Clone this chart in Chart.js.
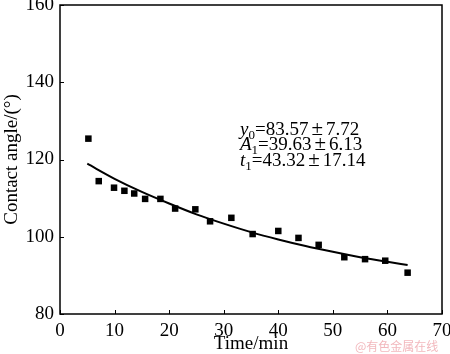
<!DOCTYPE html>
<html>
<head>
<meta charset="utf-8">
<script src="https://cdn.jsdelivr.net/npm/chart.js@4.4.0/dist/chart.umd.min.js"></script>
<style>
  html, body { margin: 0; padding: 0; background: #fff; }
  #wrap { width: 450px; height: 354px; }
</style>
</head>
<body>
<div id="wrap"><canvas id="chart" width="450" height="354"></canvas></div>
<script>
// measured points (time in min, contact angle in degrees)
const timeMin = [5.2, 7.1, 9.9, 11.8, 13.6, 15.6, 18.4, 21.1, 24.8, 27.5, 31.4, 35.3, 40.0, 43.7, 47.4, 52.1, 55.9, 59.6, 63.7];
const contactAngle = [125.4, 114.4, 112.7, 111.9, 111.2, 109.8, 109.8, 107.3, 107.1, 104.0, 104.9, 100.7, 101.5, 99.7, 97.9, 94.7, 94.2, 93.8, 90.7];

// fitted curve
const fitTime = [5, 10, 15, 20, 25, 30, 35, 40, 45, 50, 55, 60, 63.7];
const fitAngle = [118.9, 115.0, 111.6, 108.6, 105.8, 103.4, 101.2, 99.3, 97.6, 96.1, 94.7, 93.5, 92.7];

const xTicks = [0, 10, 20, 30, 40, 50, 60, 70];
const yTicks = [80, 100, 120, 140, 160];

const fitParams = [
    [['y', 'i'], ['0', 's'], ['=83.57', ''], ['\u00b1', 'pm'], ['7.72', '']],
    [['A', 'i'], ['1', 's'], ['=39.63', ''], ['\u00b1', 'pm'], ['6.13', '']],
    [['t', 'i'], ['1', 's'], ['=43.32', ''], ['\u00b1', 'pm'], ['17.14', '']]
];

const serif = '"Liberation Serif", "Times New Roman", serif';

const framePlugin = {
    id: 'frame',
    afterDraw(chart) {
        const { ctx, chartArea: a, scales: { x, y } } = chart;
        ctx.save();
        ctx.strokeStyle = '#000';
        ctx.lineWidth = 1.5;
        ctx.strokeRect(a.left, a.top, a.right - a.left, a.bottom - a.top);
        ctx.lineWidth = 1;
        ctx.beginPath();
        xTicks.forEach(v => {
            const px = Math.round(x.getPixelForValue(v)) + 0.5;
            ctx.moveTo(px, a.bottom);
            ctx.lineTo(px, a.bottom - 4);
        });
        yTicks.forEach(v => {
            const py = Math.round(y.getPixelForValue(v)) + 0.5;
            ctx.moveTo(a.left, py);
            ctx.lineTo(a.left + 4, py);
        });
        ctx.stroke();

        // fit parameters
        ctx.fillStyle = '#000';
        ctx.textBaseline = 'alphabetic';
        const baselines = [135, 150, 166];
        fitParams.forEach((parts, i) => {
            let cx = 240;
            parts.forEach(([txt, kind]) => {
                if (kind === 'i') ctx.font = 'italic 19px ' + serif;
                else if (kind === 's') ctx.font = '13px ' + serif;
                else if (kind === 'pm') ctx.font = '21px ' + serif;
                else ctx.font = '19px ' + serif;
                const dy = kind === 's' ? 4 : 0;
                const gap = kind === 'pm' ? 3 : 0;
                ctx.fillText(txt, cx + gap, baselines[i] + dy);
                cx += ctx.measureText(txt).width + 2 * gap;
            });
        });

        // watermark
        ctx.font = '12px "Noto Sans CJK SC", sans-serif';
        ctx.fillStyle = '#f2b8bd';
        ctx.textBaseline = 'middle';
        ctx.fillText('@有色金属在线', 355, 346);
        ctx.restore();
    }
};

new Chart(document.getElementById('chart'), {
    type: 'scatter',
    data: {
        datasets: [{
            label: 'measured',
            data: timeMin.map((t, i) => ({ x: t, y: contactAngle[i] })),
            pointStyle: 'rect',
            pointRadius: 4.6,
            backgroundColor: '#000',
            borderColor: '#000',
            borderWidth: 0
        }, {
            label: 'fit',
            type: 'line',
            data: fitTime.map((t, i) => ({ x: t, y: fitAngle[i] })),
            borderColor: '#000',
            borderWidth: 2,
            pointRadius: 0,
            fill: false,
            cubicInterpolationMode: 'monotone'
        }]
    },
    options: {
        responsive: false,
        animation: false,
        devicePixelRatio: 1,
        layout: { padding: { top: 5, right: 8, left: 0, bottom: 0 } },
        plugins: {
            legend: { display: false },
            tooltip: { enabled: false }
        },
        scales: {
            x: {
                type: 'linear',
                min: 0,
                max: 70,
                afterFit: s => { s.height = 40; s.paddingLeft = 0; s.paddingRight = 0; },
                afterBuildTicks: s => { s.ticks = xTicks.map(v => ({ value: v })); },
                grid: { display: false, drawTicks: false },
                border: { display: false },
                ticks: { color: '#000', padding: 6, font: { family: serif, size: 19 } },
                title: { display: true, text: 'Time/min', color: '#000', padding: 0, font: { family: serif, size: 19, lineHeight: 1.0 } }
            },
            y: {
                type: 'linear',
                min: 80,
                max: 160,
                afterFit: s => { s.width = 60; s.paddingTop = 0; s.paddingBottom = 0; },
                afterBuildTicks: s => { s.ticks = yTicks.map(v => ({ value: v })); },
                grid: { display: false, drawTicks: false },
                border: { display: false },
                ticks: { color: '#000', padding: 6, font: { family: serif, size: 19 } },
                title: { display: true, text: 'Contact angle/(\u00b0)', color: '#000', padding: 1, font: { family: serif, size: 19 } }
            }
        }
    },
    plugins: [framePlugin]
});
</script>
</body>
</html>
